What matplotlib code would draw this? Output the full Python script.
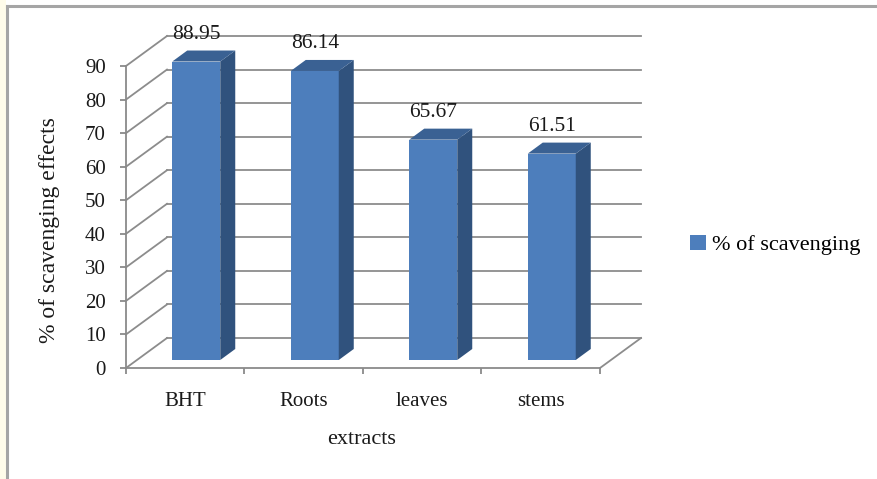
import matplotlib
matplotlib.use("Agg")
import matplotlib.pyplot as plt
from matplotlib.patches import Polygon, Patch, Rectangle
from matplotlib.lines import Line2D

# data
extracts = ["BHT", "Roots", "leaves", "stems"]
scavenging = [88.95, 86.14, 65.67, 61.51]
y_ticks = [0, 10, 20, 30, 40, 50, 60, 70, 80, 90]

plt.rcParams['font.family'] = ['Liberation Serif', 'DejaVu Serif']

W, H = 878, 479
fig = plt.figure(figsize=(W / 100, H / 100), dpi=100)

# front plane of the 3d box, in pixel terms
x0, x1 = 126, 600
y0, y1 = 368, 66
ax = fig.add_axes([x0 / W, 1 - y0 / H, (x1 - x0) / W, (y0 - y1) / H])
n = len(extracts)
ax.set_xlim(0, n)
ax.set_ylim(0, 90)

px_x = (x1 - x0) / n      # pixels per category
px_y = (y0 - y1) / 90.0   # pixels per unit

# depth of the box (back wall offset) and of the bars
depth_dx, depth_dy = 41 / px_x, 30 / px_y
front_dx, front_dy = 11 / px_x, 8 / px_y
side_dx, side_dy = 15 / px_x, 11 / px_y
bar_w = 48 / px_x

grid_c = "#8c8c8c"
axis_c = "#8a8a8a"
text_c = "#1a1a1a"

# back wall gridlines and left wall diagonals
for t in y_ticks:
    ax.plot([depth_dx, n + depth_dx], [t + depth_dy, t + depth_dy],
            color=grid_c, lw=1.3, clip_on=False, zorder=1)
    ax.plot([0, depth_dx], [t, t + depth_dy],
            color=grid_c, lw=1.3, clip_on=False, zorder=1)
# right edge of the floor
ax.plot([n, n + depth_dx], [0, depth_dy], color=grid_c, lw=1.3, clip_on=False, zorder=1)

face_c = "#4d7ebc"
side_c = "#30527d"
top_c = "#3a6193"

for i, v in enumerate(scavenging):
    left = i + 0.5 - bar_w / 2 + front_dx
    right = left + bar_w
    base = front_dy
    top = base + v
    ax.add_patch(Rectangle((left, base), bar_w, v, facecolor=face_c,
                           edgecolor="none", clip_on=False, zorder=3))
    ax.add_patch(Polygon([(right, base), (right + side_dx, base + side_dy),
                          (right + side_dx, top + side_dy), (right, top)],
                         closed=True, facecolor=side_c, edgecolor="none",
                         clip_on=False, zorder=3))
    ax.add_patch(Polygon([(left, top), (right, top),
                          (right + side_dx, top + side_dy), (left + side_dx, top + side_dy)],
                         closed=True, facecolor=top_c, edgecolor="none",
                         clip_on=False, zorder=3))
    ax.text(i + 0.5 + front_dx, top + side_dy + 16 / px_y, f"{v:.2f}",
            ha="center", va="center", fontsize=15.5, color=text_c, zorder=4)

# axes styling
for s in ["top", "right"]:
    ax.spines[s].set_visible(False)
for s in ["left", "bottom"]:
    ax.spines[s].set_color(axis_c)
    ax.spines[s].set_linewidth(1.3)
ax.set_facecolor("none")
ax.set_yticks(y_ticks)
ax.set_yticklabels([str(t) for t in y_ticks])
ax.tick_params(axis="y", direction="out", length=4.5, width=1.3, color=axis_c,
               pad=10, labelsize=15, labelcolor=text_c)
ax.set_xticks(range(n + 1))
ax.set_xticklabels([""] * (n + 1))
ax.tick_params(axis="x", which="major", direction="out", length=4.5, width=1.3,
               color=axis_c)
ax.set_xticks([i + 0.5 for i in range(n)], minor=True)
ax.set_xticklabels(extracts, minor=True)
ax.tick_params(axis="x", which="minor", length=0, pad=17, labelsize=15,
               labelcolor=text_c)

fig.text(50 / W, 1 - 230 / H, "% of scavenging effects", rotation=90,
         ha="center", va="center", fontsize=17, color=text_c)
fig.text(362 / W, 1 - 440 / H, "extracts", ha="center", va="center",
         fontsize=16, color=text_c)

handle = Patch(facecolor=face_c, edgecolor="none")
fig.legend([handle], ["% of scavenging"], loc="center left",
           bbox_to_anchor=(690 / W, 1 - 245 / H), frameon=False, fontsize=16,
           borderpad=0, borderaxespad=0, handlelength=0.7, handleheight=0.7,
           handletextpad=0.3)

# chart area frame (top and left edges) and pale strip outside it
fig.patches.append(Rectangle((0, 0), 6 / W, 1, transform=fig.transFigure,
                             facecolor="#fffcea", edgecolor="none", zorder=0))
fig.add_artist(Line2D([7 / W, 1], [1 - 6 / H, 1 - 6 / H], color="#a5a5a5", lw=2.2))
fig.add_artist(Line2D([7 / W, 7 / W], [0, 1 - 6 / H], color="#a5a5a5", lw=2.2))

fig.savefig("out.png", dpi=100)
